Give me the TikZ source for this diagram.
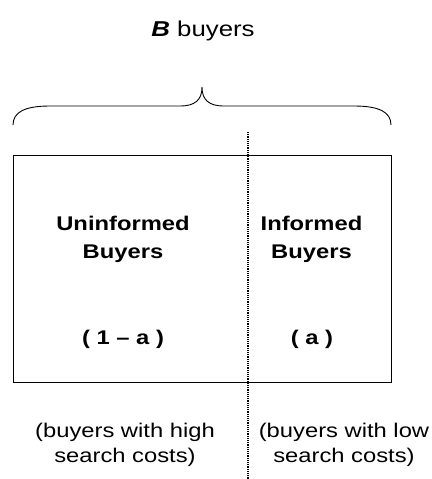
\documentclass[tikz,border=0pt]{standalone}
\usepackage{fontspec}
\setmainfont[FakeStretch=1.2]{Liberation Sans}
\begin{document}
\begin{tikzpicture}[x=1pt,y=-1pt,
  txt/.style={inner sep=0pt,anchor=base,align=center},
  title/.style={txt,font=\fontsize{21.5}{24}\selectfont},
  group/.style={txt,font=\fontsize{19.8}{28.5}\selectfont\bfseries},
  share/.style={txt,font=\fontsize{19.8}{24}\selectfont\bfseries},
  note/.style={txt,font=\fontsize{19.8}{25}\selectfont},
  frame/.style={draw,line width=0.9pt},
  split/.style={line width=1.1pt,dash pattern=on 1.1pt off 1.1pt}]
\useasboundingbox (0,0) rectangle (431,479);

% heading
\node[title] (head) at (203,36) {\textbf{\textit{B}} buyers};

% brace spanning the whole population
\draw[frame] (13,125) .. controls (13,112) and (25,106) .. (50,106) -- (180,106)
  .. controls (195,106) and (202,100) .. (202,87)
  .. controls (202,100) and (209,106) .. (224,106) -- (354,106)
  .. controls (379,106) and (391,112) .. (391,125);

% population box
\node[frame,minimum width=378pt,minimum height=227pt,inner sep=0pt] (box) at (202,268.5) {};

% split between the two groups
\coordinate (splittop) at (248,132);
\coordinate (splitbot) at (248,479);
\draw[split] (splittop) -- (splitbot);

% group labels (anchored on the baseline of their last line)
\node[group] (unin) at (123,258.5) {Uninformed\\Buyers};
\node[group] (inf) at (311.5,258.5) {Informed\\Buyers};
\node[share] (shu) at (123,344) {( 1 – a )};
\node[share] (shi) at (312,344) {( a )};

% explanations below
\node[note] (high) at (125,462) {(buyers with high\\search costs)};
\node[note] (low) at (344,462) {(buyers with low\\search costs)};
\end{tikzpicture}
\end{document}
